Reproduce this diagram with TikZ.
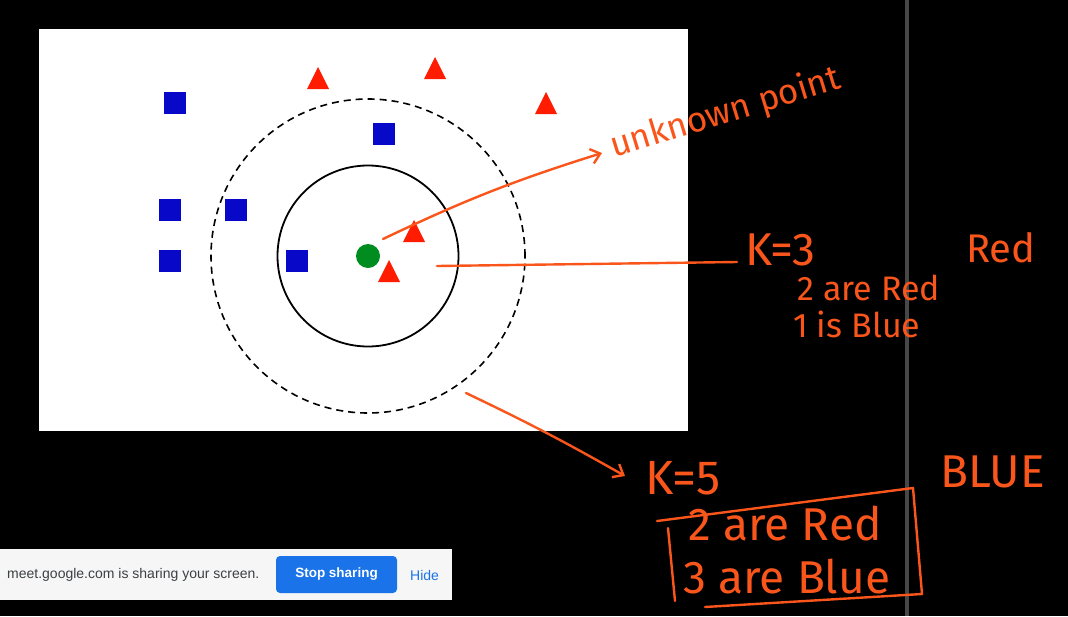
\documentclass[tikz,border=0pt]{standalone}
\usepackage{fontspec}
\newfontfamily\penfont{Fira Sans}
\newfontfamily\barfont{Liberation Sans}
\usetikzlibrary{arrows.meta}
\definecolor{pen}{RGB}{250,86,28}
\definecolor{ptblue}{RGB}{8,8,200}
\definecolor{ptred}{RGB}{255,28,0}
\definecolor{ptgreen}{RGB}{0,140,30}
\definecolor{meetblue}{RGB}{26,115,232}
\definecolor{meetgray}{RGB}{60,64,67}
\definecolor{barbg}{RGB}{246,246,246}
\tikzset{
  bluept/.style={fill=ptblue, minimum size=22pt, inner sep=0pt},
  penline/.style={draw=pen, line width=2.4pt, line cap=round, line join=round},
  pentext/.style={text=pen, inner sep=0pt, anchor=base west, font=\penfont\fontsize{#1}{#1}\selectfont},
  bartext/.style={inner sep=0pt, font=\barfont\fontsize{14}{17}\selectfont}
}
\begin{document}
\begin{tikzpicture}[x=1pt, y=-1pt, >={Straight Barb[length=9pt,width=15pt]}]
    % Screen behind the slide
    \fill[black] (0,0) rectangle (1068,616);
    \useasboundingbox (0,0) rectangle (1068,616);
    \draw[line width=4pt, black!72] (907,0) -- (907,616);
    
    % Slide
    \fill[white] (39,29) rectangle (688,431);
    
    % Neighbourhoods for K=3 and K=5
    \node[circle, draw, line width=1.8pt, minimum size=181pt] (kthreering) at (368,256) {};
    \node[circle, draw, line width=1.6pt, dash pattern=on 7pt off 5pt, minimum size=314pt] (kfivering) at (368,256) {};
    
    % Blue class
    \foreach \x/\y [count=\i] in {175/103, 384/134, 170/210, 236/210, 170/261, 297/261}
      \node[bluept] (blue\i) at (\x,\y) {};
    
    % Red class
    \foreach \x/\y in {318/78, 435/68, 546/103, 414/231, 389/271}
      \fill[ptred] (\x-11,\y+11) -- (\x+11,\y+11) -- (\x,\y-11) -- cycle;
    
    % Unknown point
    \node[circle, fill=ptgreen, minimum size=24pt, inner sep=0pt] (query) at (368,256) {};
    
    % Pen notes
    \coordinate (querytip) at (383,239);
    \node[pentext=35, rotate=17] (unknown) at (614,158) {unknown point};
    \draw[penline, ->] (querytip) to[bend left=4] ([xshift=-12pt,yshift=5pt]unknown.base west);
    
    \coordinate (ringtip) at (437,266);
    \node[pentext=46] (kthree) at (745,265) {K=3};
    \draw[penline] (ringtip) -- ([xshift=-8pt,yshift=3pt]kthree.base west);
    \node[pentext=40] (redans) at (966,262) {Red};
    \node[pentext=34] (kthreea) at (797,300) {2 are Red};
    \node[pentext=34] (kthreeb) at (793,337) {1 is Blue};
    
    \coordinate (ringfive) at (466,393);
    \node[pentext=48] (kfive) at (645,494) {K=5};
    \draw[penline, ->] (ringfive) to[bend left=2] ([xshift=-20pt,yshift=18pt]kfive.base west);
    \node[pentext=46] (blueans) at (940,487) {BLUE};
    \node[pentext=46] (kfivea) at (688,540) {2 are Red};
    \node[pentext=46] (kfiveb) at (683,593) {3 are Blue};
    % Rough box round the K=5 count
    \draw[penline] (657,521) -- (913,488) -- (922,594) -- (705,607);
    \draw[penline] (668,528) -- (675,601);
    
    % Screen sharing bar
    \node[fill=barbg, anchor=north west, minimum width=452pt, minimum height=51pt, inner sep=0pt] (meetbar) at (0,549) {};
    \node[bartext, text=meetgray, anchor=west] (sharemsg) at (7,575) {meet.google.com is sharing your screen.};
    \node[fill=meetblue, rounded corners=4pt, minimum width=121pt, minimum height=37pt, inner sep=0pt,
          text=white, font=\barfont\bfseries\fontsize{13.5}{16}\selectfont] (stopbtn) at (336.5,574.5) {Stop sharing};
    \node[bartext, text=meetblue, anchor=west] (hidebtn) at (410,575) {Hide};
\end{tikzpicture}
\end{document}
